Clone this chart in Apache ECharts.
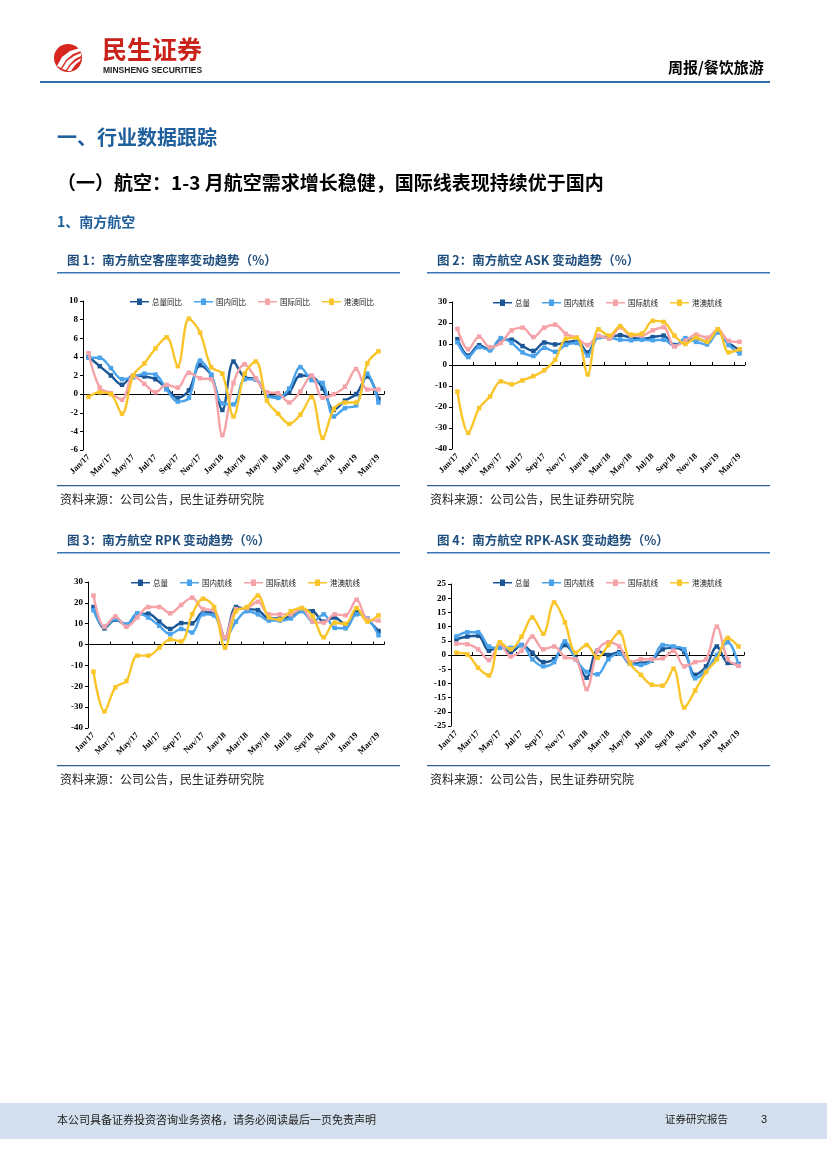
<!DOCTYPE html>
<html>
<head>
<meta charset="utf-8">
<script src="https://cdn.jsdelivr.net/npm/echarts@6/dist/echarts.min.js"></script>
<style>html,body{margin:0;padding:0;background:#fff}#c{width:827px;height:1169px}</style>
</head>
<body>
<div id="c"></div>
<script>
const months = ['Jan/17','Feb/17','Mar/17','Apr/17','May/17','Jun/17','Jul/17','Aug/17','Sep/17','Oct/17','Nov/17','Dec/17',
  'Jan/18','Feb/18','Mar/18','Apr/18','May/18','Jun/18','Jul/18','Aug/18','Sep/18','Oct/18','Nov/18','Dec/18',
  'Jan/19','Feb/19','Mar/19'];

// Chart 1: passenger load factor change (ppt)
const c1Names = ['总量同比','国内同比','国际同比','港澳同比'];
const c1Total = [4.0,3.0,2.0,1.0,2.0,1.9,1.6,0.6,-0.4,0.4,3.1,2.0,-1.7,3.5,1.8,1.6,-0.1,-0.3,0.2,2.0,1.9,0.6,-1.7,-0.7,0.0,1.9,-0.5];
const c1Dom   = [3.9,3.9,2.8,1.6,1.8,2.2,2.1,0.5,-0.8,-0.4,3.6,2.1,-1.0,-1.1,1.6,1.6,-0.2,-0.4,0.6,2.9,1.5,1.2,-2.4,-1.5,-1.2,2.2,-0.9];
const c1Intl  = [4.4,0.7,0.1,-0.6,2.0,1.1,0.2,1.0,0.7,2.3,1.7,1.6,-4.4,1.2,3.2,1.7,0.2,0.1,-0.9,0.3,2.0,-0.4,0.0,0.8,2.7,0.5,0.5];
const c1HKM   = [-0.3,0.2,0.0,-2.1,2.0,3.3,4.9,6.1,3.0,8.1,6.6,2.9,2.2,-2.4,2.2,3.5,-0.7,-2.1,-3.2,-2.2,-0.3,-4.7,-1.6,-0.9,-0.9,3.3,4.6];

// Chart 2: ASK change (%)
const c2Names = ['总量','国内航线','国际航线','港澳航线'];
const c2Total = [12.3,4.5,9.4,7.2,12.0,12.0,9.0,6.7,10.7,9.8,10.7,11.6,6.0,13.5,13.3,14.2,13.0,12.5,13.3,14.0,9.5,11.5,12.7,11.0,16.0,10.5,7.2];
const c2Dom   = [10.8,3.8,8.5,7.0,12.8,10.5,6.0,4.3,8.2,6.3,9.6,10.5,4.5,13.2,13.0,12.0,11.8,12.0,11.8,12.0,9.0,12.8,11.0,9.8,15.5,9.5,5.5];
const c2Intl  = [17.2,7.5,13.5,8.5,10.5,16.5,17.8,13.3,17.8,19.2,14.8,13.0,9.5,14.0,12.5,18.0,14.0,14.0,16.5,18.0,8.8,11.5,14.5,13.0,17.0,11.5,11.0];
const c2HKM   = [-12.7,-32.3,-20.5,-15.0,-7.8,-9.2,-7.3,-5.3,-2.5,2.5,12.5,13.0,-4.5,17.0,14.0,18.5,14.5,15.0,21.0,20.5,14.0,10.0,13.0,11.0,17.0,6.0,7.5];

// Chart 3: RPK change (%)
const c3Names = ['总量','国内航线','国际航线','港澳航线'];
const c3Total = [18.0,7.8,12.0,9.5,14.5,14.8,11.0,7.5,10.3,10.2,15.5,15.0,3.5,18.0,17.0,16.5,12.5,12.5,13.5,16.5,16.0,11.0,13.0,9.5,16.0,12.0,6.5];
const c3Dom   = [16.5,8.5,12.5,9.5,15.0,13.0,9.0,5.0,7.5,5.8,14.5,14.0,3.0,11.0,16.0,14.5,11.5,11.5,12.5,16.0,11.0,14.5,8.0,7.8,14.5,12.5,4.5];
const c3Intl  = [23.5,8.5,13.5,8.5,13.0,18.0,18.0,15.0,19.0,22.5,17.0,16.5,3.5,17.0,17.5,20.5,14.5,14.5,14.5,17.5,11.0,10.5,14.5,14.0,21.5,12.0,11.5];
const c3HKM   = [-13.0,-32.0,-20.5,-17.5,-5.3,-5.3,-1.5,2.5,1.5,14.5,22.0,18.0,-1.5,16.0,18.0,23.5,13.0,12.0,16.0,17.5,13.5,3.5,10.5,10.0,17.5,11.0,14.0];

// Chart 4: RPK-ASK change (ppt)
const c4Names = ['总量','国内航线','国际航线','港澳航线'];
const c4Total = [5.5,6.5,6.8,1.5,3.0,1.0,3.5,0.8,-2.5,-1.5,3.5,-1.0,-8.0,1.5,0.0,1.0,-3.0,-2.8,-2.0,2.0,2.5,1.0,-7.0,-4.0,3.0,-2.8,-3.2];
const c4Dom   = [6.5,8.0,8.0,3.0,2.5,2.5,3.5,-1.5,-4.0,-2.5,4.8,-1.5,-6.0,-6.8,-1.5,0.5,-3.0,-3.5,-2.0,3.5,3.0,2.0,-8.2,-5.5,0.0,4.5,-3.5];
const c4Intl  = [4.0,3.8,2.0,-1.8,4.0,-0.5,1.5,6.5,2.0,3.0,-0.8,-1.5,-12.0,1.5,4.5,3.0,-2.5,-1.5,-1.5,-1.2,1.5,-4.0,-2.5,-1.5,10.0,-1.5,-3.8];
const c4HKM   = [0.8,0.2,-4.5,-7.2,4.5,2.0,6.5,13.2,7.5,18.5,11.5,0.8,3.5,-1.0,3.5,8.0,-3.0,-7.0,-10.5,-10.8,-4.8,-18.5,-12.5,-6.0,-1.5,6.0,3.0];

const colors = ['#1B5796','#4AA3EB','#F5A3A8','#F9C52A'];
const serif = 'Liberation Serif';
const cjk = 'Noto Sans CJK SC';

const charts = [
  {grid:{left:83,top:301,width:301,height:149}, y:[-6,10,2], names:c1Names, data:[c1Total,c1Dom,c1Intl,c1HKM], legend:{left:125,top:293}},
  {grid:{left:452,top:302,width:293,height:147}, y:[-40,30,10], names:c2Names, data:[c2Total,c2Dom,c2Intl,c2HKM], legend:{left:488,top:294}},
  {grid:{left:88,top:582,width:296,height:146}, y:[-40,30,10], names:c3Names, data:[c3Total,c3Dom,c3Intl,c3HKM], legend:{left:126,top:574}},
  {grid:{left:451,top:584,width:293,height:142}, y:[-25,25,5], names:c4Names, data:[c4Total,c4Dom,c4Intl,c4HKM], legend:{left:488,top:574}}
];

const option = {animation:false, grid:[], xAxis:[], yAxis:[], series:[], legend:[], graphic:[]};
charts.forEach((c,k)=>{
  option.grid.push(Object.assign({containLabel:false}, c.grid));
  option.xAxis.push({type:'category', gridIndex:k, data:months, boundaryGap:true,
    axisLine:{show:false, onZero:false}, axisTick:{show:false},
    axisLabel:{interval:1, rotate:45, fontFamily:serif, fontWeight:'bold', fontSize:8.5, color:'#000', margin:6}});
  option.xAxis.push({type:'category', gridIndex:k, data:months, boundaryGap:true,
    axisLine:{show:true, onZero:true, lineStyle:{color:'#000', width:1}},
    axisTick:{show:true, interval:1, length:3, lineStyle:{color:'#000'}}, axisLabel:{show:false}});
  option.yAxis.push({type:'value', gridIndex:k, min:c.y[0], max:c.y[1], interval:c.y[2],
    axisLine:{show:true, lineStyle:{color:'#000', width:1}}, axisTick:{show:true, length:3, lineStyle:{color:'#000'}},
    splitLine:{show:false},
    axisLabel:{fontFamily:serif, fontWeight:'bold', fontSize:9, color:'#000', margin:5}});
  const names = c.names.map(n=>n+'__'+k);
  c.data.forEach((d,i)=>{
    option.series.push({type:'line', name:names[i], xAxisIndex:2*k, yAxisIndex:k, data:d, smooth:0.35,
      symbol:'rect', symbolSize:4.5, showSymbol:true,
      lineStyle:{color:colors[i], width:2.4}, itemStyle:{color:colors[i]}, z:2+i});
  });
  option.legend.push({data:names, left:c.legend.left, top:c.legend.top, itemWidth:19, itemHeight:7, itemGap:12,
    icon:'path://M0,3 L7,3 L7,0.5 L12,0.5 L12,3 L19,3 L19,4.5 L12,4.5 L12,7 L7,7 L7,4.5 L0,4.5 Z',
    selectedMode:false,
    formatter:(n)=>n.split('__')[0],
    textStyle:{fontFamily:cjk, fontSize:7.5, color:'#222', padding:[0,0,0,-2]}});
});

const G = option.graphic;
// header logo
G.push({type:'circle', shape:{cx:68, cy:58, r:14}, style:{fill:'#D6261D'}});
G.push({type:'polygon', shape:{points:[[57,66],[62,57],[70,51],[80,48],[81,51],[73,54],[66,60],[61,68]]}, style:{fill:'#fff'}});
G.push({type:'polygon', shape:{points:[[62,69],[67,61],[74,56],[81,53],[81,56],[75,59],[70,64],[66,70]]}, style:{fill:'#fff'}});
G.push({type:'polygon', shape:{points:[[67,71],[71,65],[76,61],[81,58],[80,61],[76,64],[73,68],[71,71]]}, style:{fill:'#fff'}});
G.push({type:'text', left:102, top:37, style:{text:'民生证券', font:'bold 25px "Noto Sans CJK SC"', fill:'#C8221B'}});
G.push({type:'text', left:103, top:66, style:{text:'MINSHENG SECURITIES', font:'bold 8.5px "Liberation Sans"', fill:'#222'}});
G.push({type:'text', left:668, top:60, style:{text:'周报/餐饮旅游', font:'bold 15px "Noto Sans CJK SC"', fill:'#000'}});
G.push({type:'rect', shape:{x:40, y:81, width:730, height:2}, style:{fill:'#2F6EA8'}});
// headings
G.push({type:'text', left:57, top:127, style:{text:'一、行业数据跟踪', font:'bold 20px "Noto Sans CJK SC"', fill:'#1F5F9C'}});
G.push({type:'text', left:57, top:173, style:{text:'（一）航空：1-3 月航空需求增长稳健，国际线表现持续优于国内', font:'bold 19px "Noto Sans CJK SC"', fill:'#000'}});
G.push({type:'text', left:57, top:215, style:{text:'1、南方航空', font:'bold 14px "Noto Sans CJK SC"', fill:'#1F5F9C'}});
// chart titles, rules, sources
const titles = [
  {x:67, y:254, t:'图 1：南方航空客座率变动趋势（%）', lx:57},
  {x:437, y:254, t:'图 2：南方航空 ASK 变动趋势（%）', lx:427},
  {x:67, y:534, t:'图 3：南方航空 RPK 变动趋势（%）', lx:57},
  {x:437, y:534, t:'图 4：南方航空 RPK-ASK 变动趋势（%）', lx:427}
];
titles.forEach(o=>{
  G.push({type:'text', left:o.x, top:o.y, style:{text:o.t, font:'bold 12.5px "Noto Sans CJK SC"', fill:'#1F4E7E'}});
  G.push({type:'rect', shape:{x:o.lx, y:o.y+18, width:343, height:1.5}, style:{fill:'#3A77B0'}});
  G.push({type:'rect', shape:{x:o.lx, y:o.y+231, width:343, height:1.2}, style:{fill:'#2E5F8E'}});
  G.push({type:'text', left:o.lx+3, top:o.y+239, style:{text:'资料来源：公司公告，民生证券研究院', font:'12px "Noto Sans CJK SC"', fill:'#222'}});
});
// footer
G.push({type:'rect', shape:{x:0, y:1103, width:827, height:36}, style:{fill:'#D3DFEC'}});
G.push({type:'text', left:57, top:1114, style:{text:'本公司具备证券投资咨询业务资格，请务必阅读最后一页免责声明', font:'11px "Noto Sans CJK SC"', fill:'#222'}});
G.push({type:'text', left:665, top:1114, style:{text:'证券研究报告', font:'10.5px "Noto Sans CJK SC"', fill:'#222'}});
G.push({type:'text', left:761, top:1114, style:{text:'3', font:'11px "Liberation Sans"', fill:'#222'}});

const chart = echarts.init(document.getElementById('c'), null, {renderer:'canvas'});
chart.setOption(option);
</script>
</body>
</html>
